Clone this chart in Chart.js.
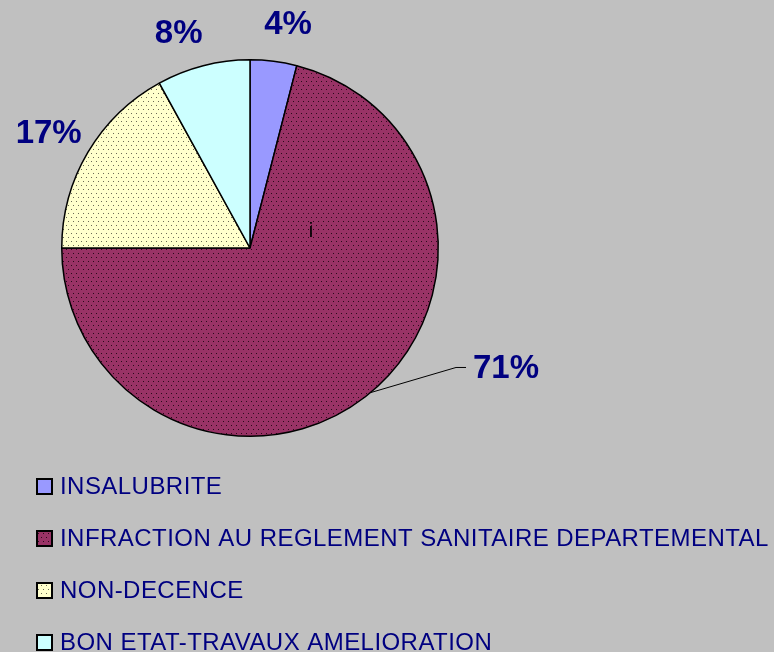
<!DOCTYPE html>
<html><head><meta charset="utf-8">
<script src="https://cdn.jsdelivr.net/npm/chart.js@4/dist/chart.umd.min.js"></script>
<style>html,body{margin:0;padding:0;background:#C0C0C0;}#wrap{position:relative;width:774px;height:652px;}</style>
</head><body><div id="wrap"><canvas id="c" width="774" height="652"></canvas></div>
<script>
const categories = ["INSALUBRITE","INFRACTION AU REGLEMENT SANITAIRE DEPARTEMENTAL","NON-DECENCE","BON ETAT-TRAVAUX AMELIORATION"];
const values = [4, 71, 17, 8];
const pctLabels = ["4%","71%","17%","8%"];
const baseColors = ["#9999FF","#993366","#FFFFCC","#CCFFFF"];
const dotted = [false, true, true, false];

function makePattern(color, dot){
  const p = document.createElement('canvas');
  p.width = 5; p.height = 8;
  const g = p.getContext('2d');
  g.fillStyle = color; g.fillRect(0,0,5,8);
  g.fillStyle = dot;
  g.fillRect(1,1,1,1);
  g.fillRect(3,5,1,1);
  return g.createPattern(p,'repeat');
}
const ctx0 = document.getElementById('c').getContext('2d');
const fills = baseColors.map((c,i)=> dotted[i] ? makePattern(c, i===1 ? '#2a0a1a' : '#6b6b55') : c);

// label placement: [angle offset from slice middle (deg), radius factor]
const labelPlace = [[2.5,1.2],[-27,1.5],[-1,1.23],[-4,1.2]];

const labelPlugin = {
  id:'labels',
  afterDraw(chart){
    const ctx = chart.ctx;
    const meta = chart.getDatasetMeta(0);
    ctx.save();
    ctx.font = 'bold 33px "Liberation Sans", Arial, sans-serif';
    ctx.fillStyle = '#000080';
    ctx.textAlign = 'center'; ctx.textBaseline = 'middle';
    meta.data.forEach((arc,i)=>{
      const {x,y,startAngle,endAngle,outerRadius} = arc.getProps(['x','y','startAngle','endAngle','outerRadius'],true);
      const mid = (startAngle+endAngle)/2 + labelPlace[i][0]*Math.PI/180;
      const r = outerRadius*labelPlace[i][1];
      let lx = x + Math.cos(mid)*r, ly = y + Math.sin(mid)*r;
      if(i===1){
        lx = x + outerRadius*1.36; ly = y + outerRadius*0.64;
        // leader line
        const ea = (startAngle+endAngle)/2 - 2*Math.PI/180;
        const ex = x + Math.cos(ea)*outerRadius, ey = y + Math.sin(ea)*outerRadius;
        ctx.save();
        ctx.strokeStyle='#000'; ctx.lineWidth=1;
        ctx.beginPath(); ctx.moveTo(ex,ey); ctx.lineTo(lx-50, ly-1); ctx.lineTo(lx-40, ly-1); ctx.stroke();
        ctx.restore();
      }
      ctx.fillText(pctLabels[i], lx, ly);
    });
    // stray glyph
    ctx.font = '20px "Liberation Sans", Arial, sans-serif';
    ctx.fillStyle = '#000';
    ctx.textAlign='center'; ctx.textBaseline='alphabetic';
    const a0 = meta.data[0];
    ctx.fillText('i', a0.x + 61, a0.y - 11);
    // legend
    ctx.font = '24px "Liberation Sans", Arial, sans-serif';
    ctx.letterSpacing = '0.45px';
    ctx.textAlign='left'; ctx.textBaseline='middle';
    categories.forEach((c,i)=>{
      const top = 479 + i*52;
      ctx.fillStyle = fills[i];
      ctx.fillRect(37, top, 15, 15);
      ctx.strokeStyle = '#000'; ctx.lineWidth = 2;
      ctx.strokeRect(37, top, 15, 15);
      ctx.fillStyle = '#000080';
      ctx.fillText(c, 60, top + 8);
    });
    ctx.restore();
  }
};

new Chart(ctx0, {
  type:'pie',
  data:{labels:categories, datasets:[{data:values, backgroundColor:fills, borderColor:'#000', borderWidth:1.5, hoverOffset:0}]},
  options:{
    responsive:false, animation:false,
    layout:{padding:{left:61, top:59, right:335, bottom:215}},
    plugins:{legend:{display:false}, tooltip:{enabled:false}}
  },
  plugins:[labelPlugin]
});
</script></body></html>
